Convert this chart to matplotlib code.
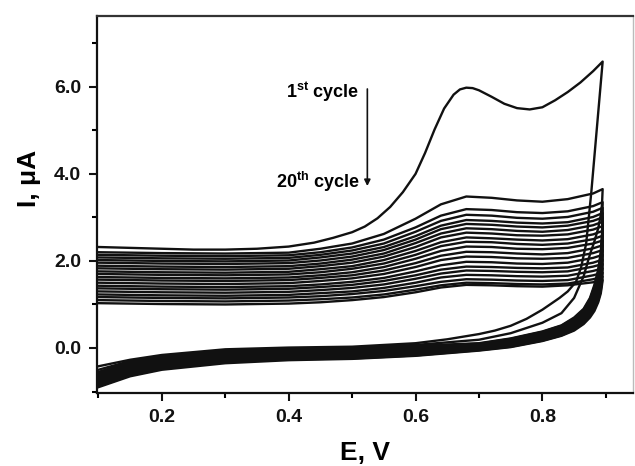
import numpy as np
import matplotlib
matplotlib.use('Agg')
import matplotlib.pyplot as plt

plt.rcParams['font.family'] = ['Liberation Sans', 'DejaVu Sans']
plt.rcParams['mathtext.fontset'] = 'custom'
plt.rcParams['mathtext.rm'] = 'Liberation Sans'
plt.rcParams['mathtext.bf'] = 'Liberation Sans:bold'

# ---- 1st cycle ----
x1_an = [0.10, 0.15, 0.20, 0.25, 0.30, 0.35, 0.40, 0.44, 0.47, 0.50, 0.52, 0.54, 0.56,
         0.58, 0.60, 0.615, 0.63, 0.645, 0.66, 0.67, 0.68, 0.69, 0.70, 0.72, 0.74, 0.76,
         0.78, 0.80, 0.82, 0.84, 0.86, 0.88, 0.895]
y1_an = [2.32, 2.30, 2.28, 2.26, 2.26, 2.28, 2.33, 2.42, 2.53, 2.66, 2.79, 2.98, 3.24,
         3.58, 4.00, 4.48, 5.02, 5.50, 5.82, 5.94, 5.98, 5.97, 5.92, 5.77, 5.61, 5.51,
         5.48, 5.53, 5.69, 5.88, 6.10, 6.36, 6.58]
x1_ca = [0.886, 0.877, 0.869, 0.861, 0.853, 0.840, 0.827, 0.80, 0.775, 0.75, 0.725, 0.70,
         0.65, 0.60, 0.50, 0.40, 0.30, 0.20, 0.15, 0.10]
y1_ca = [5.07, 3.56, 2.40, 1.85, 1.52, 1.30, 1.15, 0.88, 0.67, 0.51, 0.40, 0.32,
         0.20, 0.11, 0.03, 0.01, -0.03, -0.16, -0.27, -0.42]

# ---- cycles 2..20, anodic branch ----
x_an = [0.10, 0.20, 0.30, 0.40, 0.45, 0.50, 0.55, 0.60, 0.64, 0.68, 0.72, 0.76, 0.80, 0.84, 0.88, 0.895]
anodic = [
    [2.20, 2.18, 2.17, 2.19, 2.28, 2.40, 2.62, 2.97, 3.30, 3.48, 3.45, 3.39, 3.36, 3.42, 3.55, 3.65],
    [2.14, 2.12, 2.11, 2.13, 2.20, 2.31, 2.49, 2.77, 3.04, 3.19, 3.17, 3.12, 3.10, 3.14, 3.26, 3.35],
    [2.08, 2.06, 2.05, 2.07, 2.14, 2.24, 2.40, 2.67, 2.92, 3.06, 3.04, 2.99, 2.97, 3.01, 3.13, 3.22],
    [2.02, 2.00, 1.99, 2.01, 2.08, 2.17, 2.32, 2.57, 2.81, 2.94, 2.92, 2.88, 2.86, 2.89, 3.01, 3.10],
    [1.96, 1.94, 1.93, 1.95, 2.01, 2.10, 2.25, 2.49, 2.73, 2.85, 2.83, 2.79, 2.77, 2.81, 2.92, 3.00],
    [1.89, 1.87, 1.86, 1.88, 1.94, 2.03, 2.17, 2.41, 2.63, 2.75, 2.73, 2.69, 2.67, 2.71, 2.82, 2.90],
    [1.83, 1.81, 1.80, 1.82, 1.88, 1.96, 2.10, 2.32, 2.54, 2.65, 2.63, 2.59, 2.58, 2.61, 2.72, 2.80],
    [1.76, 1.74, 1.73, 1.75, 1.81, 1.88, 2.02, 2.23, 2.43, 2.54, 2.52, 2.49, 2.47, 2.50, 2.61, 2.69],
    [1.70, 1.68, 1.67, 1.69, 1.74, 1.82, 1.94, 2.14, 2.34, 2.44, 2.43, 2.39, 2.37, 2.40, 2.50, 2.58],
    [1.63, 1.61, 1.60, 1.62, 1.67, 1.74, 1.86, 2.05, 2.23, 2.33, 2.32, 2.28, 2.27, 2.30, 2.40, 2.47],
    [1.57, 1.55, 1.54, 1.56, 1.61, 1.67, 1.78, 1.95, 2.12, 2.21, 2.20, 2.17, 2.15, 2.18, 2.29, 2.36],
    [1.50, 1.48, 1.47, 1.49, 1.54, 1.60, 1.70, 1.86, 2.02, 2.10, 2.09, 2.06, 2.05, 2.07, 2.18, 2.25],
    [1.43, 1.41, 1.40, 1.42, 1.46, 1.52, 1.61, 1.76, 1.90, 1.98, 1.97, 1.94, 1.93, 1.96, 2.07, 2.14],
    [1.37, 1.35, 1.34, 1.36, 1.40, 1.45, 1.54, 1.67, 1.80, 1.87, 1.86, 1.84, 1.83, 1.85, 1.96, 2.03],
    [1.30, 1.28, 1.27, 1.29, 1.33, 1.38, 1.46, 1.59, 1.71, 1.78, 1.77, 1.75, 1.74, 1.76, 1.87, 1.93],
    [1.23, 1.21, 1.20, 1.22, 1.26, 1.30, 1.38, 1.50, 1.62, 1.68, 1.67, 1.65, 1.64, 1.66, 1.77, 1.83],
    [1.17, 1.15, 1.14, 1.16, 1.19, 1.24, 1.31, 1.42, 1.52, 1.58, 1.57, 1.55, 1.54, 1.56, 1.67, 1.73],
    [1.10, 1.08, 1.07, 1.09, 1.12, 1.16, 1.23, 1.34, 1.44, 1.50, 1.49, 1.47, 1.46, 1.48, 1.58, 1.64],
    [1.03, 1.01, 1.00, 1.02, 1.05, 1.10, 1.17, 1.28, 1.39, 1.45, 1.44, 1.42, 1.41, 1.44, 1.51, 1.56],
]

# ---- cycles 2..20, cathodic branch (starts where the anodic one ends) ----
x_ca = [0.894, 0.892, 0.888, 0.882, 0.875, 0.865, 0.85, 0.83, 0.80, 0.75, 0.70, 0.60, 0.50, 0.40, 0.30, 0.20, 0.15, 0.10]
cathodic = [
    [3.30, 3.05, 2.75, 2.45, 2.15, 1.65, 1.15, 0.80, 0.58, 0.34, 0.19, 0.07, 0.01, -0.02, -0.06, -0.20, -0.30, -0.50],
    [2.60, 2.20, 1.80, 1.45, 1.15, 0.90, 0.70, 0.52, 0.38, 0.22, 0.11, 0.05, 0.00, -0.02, -0.05, -0.20, -0.32, -0.55],
    [2.53, 2.14, 1.76, 1.41, 1.12, 0.88, 0.68, 0.51, 0.37, 0.21, 0.10, 0.04, -0.01, -0.04, -0.07, -0.22, -0.34, -0.57],
    [2.46, 2.09, 1.71, 1.38, 1.10, 0.86, 0.66, 0.49, 0.35, 0.20, 0.09, 0.02, -0.03, -0.05, -0.09, -0.24, -0.36, -0.59],
    [2.40, 2.03, 1.67, 1.34, 1.07, 0.84, 0.65, 0.48, 0.34, 0.18, 0.08, 0.01, -0.04, -0.07, -0.10, -0.25, -0.38, -0.61],
    [2.33, 1.98, 1.62, 1.31, 1.04, 0.82, 0.63, 0.46, 0.33, 0.17, 0.07, 0.00, -0.06, -0.08, -0.12, -0.27, -0.40, -0.63],
    [2.26, 1.92, 1.58, 1.27, 1.02, 0.80, 0.61, 0.45, 0.32, 0.16, 0.06, -0.02, -0.07, -0.10, -0.14, -0.29, -0.42, -0.65],
    [2.19, 1.86, 1.54, 1.24, 0.99, 0.78, 0.59, 0.44, 0.30, 0.15, 0.05, -0.03, -0.09, -0.11, -0.16, -0.31, -0.44, -0.67],
    [2.13, 1.81, 1.49, 1.20, 0.96, 0.76, 0.58, 0.42, 0.29, 0.14, 0.04, -0.04, -0.10, -0.13, -0.17, -0.32, -0.46, -0.69],
    [2.06, 1.75, 1.45, 1.17, 0.94, 0.74, 0.56, 0.41, 0.28, 0.13, 0.03, -0.06, -0.12, -0.14, -0.19, -0.34, -0.48, -0.71],
    [1.99, 1.70, 1.40, 1.13, 0.91, 0.71, 0.54, 0.39, 0.26, 0.11, 0.02, -0.07, -0.13, -0.16, -0.21, -0.36, -0.49, -0.74],
    [1.92, 1.64, 1.36, 1.10, 0.88, 0.69, 0.52, 0.38, 0.25, 0.10, 0.01, -0.09, -0.15, -0.17, -0.23, -0.38, -0.51, -0.76],
    [1.86, 1.59, 1.32, 1.06, 0.86, 0.67, 0.51, 0.37, 0.24, 0.09, 0.00, -0.10, -0.16, -0.19, -0.24, -0.39, -0.53, -0.78],
    [1.79, 1.53, 1.27, 1.03, 0.83, 0.65, 0.49, 0.35, 0.23, 0.08, -0.01, -0.11, -0.18, -0.20, -0.26, -0.41, -0.55, -0.80],
    [1.72, 1.47, 1.23, 0.99, 0.80, 0.63, 0.47, 0.34, 0.21, 0.07, -0.02, -0.13, -0.19, -0.22, -0.28, -0.43, -0.57, -0.82],
    [1.65, 1.42, 1.18, 0.96, 0.78, 0.61, 0.45, 0.32, 0.20, 0.05, -0.03, -0.14, -0.21, -0.23, -0.30, -0.45, -0.59, -0.84],
    [1.59, 1.36, 1.14, 0.92, 0.75, 0.59, 0.44, 0.31, 0.19, 0.04, -0.04, -0.15, -0.22, -0.25, -0.31, -0.46, -0.61, -0.86],
    [1.52, 1.31, 1.09, 0.89, 0.73, 0.57, 0.42, 0.29, 0.17, 0.03, -0.05, -0.17, -0.24, -0.26, -0.33, -0.48, -0.63, -0.88],
    [1.45, 1.25, 1.05, 0.85, 0.70, 0.55, 0.40, 0.28, 0.16, 0.02, -0.06, -0.18, -0.25, -0.28, -0.35, -0.50, -0.65, -0.90],
]

xticks = [0.2, 0.4, 0.6, 0.8]
yticks = [0.0, 2.0, 4.0, 6.0]

fig = plt.figure(figsize=(6.35, 4.66), dpi=100)
ax = fig.add_axes([0.153, 0.157, 0.844, 0.809])

lc = '#111111'
lw = 1.7
ax.plot(x1_an + x1_ca, y1_an + y1_ca, color=lc, lw=lw, solid_joinstyle='round')
for an, ca in zip(anodic, cathodic):
    ax.plot(x_an + x_ca, an + ca, color=lc, lw=lw, solid_joinstyle='round')

ax.set_xlim(0.098, 0.943)
ax.set_ylim(-1.03, 7.63)
ax.set_xticks(xticks)
ax.set_xticklabels(['%.1f' % v for v in xticks])
ax.set_yticks(yticks)
ax.set_yticklabels(['%.1f' % v for v in yticks])
ax.set_xticks([0.1, 0.3, 0.5, 0.7, 0.9], minor=True)
ax.set_yticks([-1, 1, 3, 5, 7], minor=True)
ax.tick_params(which='major', direction='out', length=5.5, width=1.5, pad=6,
               labelsize=14, colors='#111111')
ax.tick_params(which='minor', direction='out', length=3.5, width=1.5)
for lab in ax.get_xticklabels() + ax.get_yticklabels():
    lab.set_fontweight('bold')

for s in ['left', 'bottom']:
    ax.spines[s].set_linewidth(1.6)
    ax.spines[s].set_color('#111111')
ax.spines['top'].set_linewidth(1.6)
ax.spines['top'].set_color('#333333')
ax.spines['right'].set_linewidth(1.0)
ax.spines['right'].set_color('#bbbbbb')

ax.set_xlabel('E, V', fontsize=19, fontweight='bold', labelpad=11)
ax.set_ylabel('I, μA', fontsize=19, fontweight='bold')
ax.yaxis.set_label_coords(-0.105, 0.57)

# cycle annotation
ax.text(0.512, 5.88, r'1$^{\mathbf{st}}$ cycle', ha='right', va='center',
        fontsize=13, fontweight='bold')
ax.text(0.512, 3.82, r'20$^{\mathbf{th}}$ cycle', ha='right', va='center',
        fontsize=13, fontweight='bold')
ax.annotate('', xy=(0.524, 3.72), xytext=(0.524, 5.95),
            arrowprops=dict(arrowstyle='-|>', color='#111111', lw=1.2,
                            mutation_scale=9, shrinkA=0, shrinkB=0))

fig.savefig('out.png', dpi=100)
